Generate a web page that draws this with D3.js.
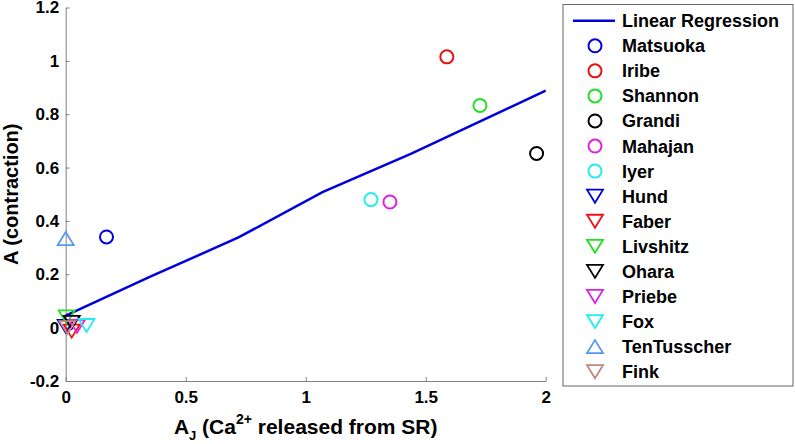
<!DOCTYPE html>
<html>
<head>
<meta charset="utf-8">
<script src="https://cdn.jsdelivr.net/npm/d3@7"></script>
<style>
  html, body { margin: 0; padding: 0; background: #fff; }
  svg { display: block; font-family: "Liberation Sans", Arial, sans-serif; font-weight: bold; }
</style>
</head>
<body>
<svg id="chart" width="795" height="444"></svg>
<script>
// ---- data ----
const models    = ["Matsuoka","Iribe","Shannon","Grandi","Mahajan","Iyer","Hund","Faber","Livshitz","Ohara","Priebe","Fox","TenTusscher","Fink"];
const ajValues  = [0.17, 1.588, 1.726, 1.962, 1.351, 1.272, 0.0, 0.025, 0.004, 0.025, 0.047, 0.087, 0.0, 0.007];
const aValues   = [0.34, 1.015, 0.833, 0.653, 0.471, 0.48, 0.005, -0.013, 0.04, 0.02, 0.005, 0.008, 0.334, 0.0];
const markers   = ["circle","circle","circle","circle","circle","circle","down","down","down","down","down","down","up","down"];
const colors    = ["#0000dd","#ee1111","#22e022","#000000","#e020e0","#22eeee","#0000dd","#ee1111","#22e022","#000000","#e020e0","#22eeee","#5599ee","#c08880"];
const regX      = [0, 0.35, 0.72, 1.07, 1.44, 2.0];
const regY      = [0.045, 0.19, 0.338, 0.508, 0.652, 0.888];
const regLabel  = "Linear Regression";
const xTicks    = [0, 0.5, 1, 1.5, 2];
const xTickLabels = ["0","0.5","1","1.5","2"];
const yTicks    = [-0.2, 0, 0.2, 0.4, 0.6, 0.8, 1, 1.2];
const yTickLabels = ["-0.2","0","0.2","0.4","0.6","0.8","1","1.2"];

// ---- layout ----
const svg = d3.select("#chart");
const x = d3.scaleLinear().domain([0, 2]).range([65.7, 545.7]);
const y = d3.scaleLinear().domain([-0.2, 1.2]).range([381, 7.5]);
const axisColor = "#808080";

// axes
const gx = svg.append("g").attr("transform", `translate(0,${y(-0.2)})`)
  .call(d3.axisBottom(x).tickValues(xTicks).tickFormat((d,i) => xTickLabels[i])
        .tickSizeInner(-4).tickSizeOuter(0).tickPadding(10));
const gy = svg.append("g").attr("transform", `translate(${x(0)},0)`)
  .call(d3.axisLeft(y).tickValues(yTicks).tickFormat((d,i) => yTickLabels[i])
        .tickSizeInner(-4).tickSizeOuter(0).tickPadding(6.5));
[gx, gy].forEach(g => {
  g.select(".domain").attr("stroke", axisColor).attr("stroke-width", 1);
  g.selectAll(".tick line").attr("stroke", axisColor);
  g.selectAll(".tick text").attr("fill", "#000").style("font-size", "17px").style("font-weight", "bold")
    .style("font-family", "'Liberation Sans', Arial, sans-serif");
});

// axis titles
const xt = svg.append("text").attr("x", (x(0)+x(2))/2).attr("y", 434).attr("text-anchor", "middle")
  .style("font-size", "21px");
xt.append("tspan").text("A");
xt.append("tspan").attr("dy", 6).style("font-size", "13px").text("J");
xt.append("tspan").attr("dy", -6).text(" (Ca");
xt.append("tspan").attr("dy", -10).style("font-size", "14px").text("2+");
xt.append("tspan").attr("dy", 10).text(" released from SR)");

svg.append("text").attr("transform", `translate(18,${(y(-0.2)+y(1.2))/2}) rotate(-90)`)
  .attr("text-anchor", "middle").style("font-size", "20px").text("A (contraction)");

// regression line
const regData = regX.map((v, i) => [v, regY[i]]);
svg.append("path").datum(regData)
  .attr("d", d3.line().x(d => x(d[0])).y(d => y(d[1])))
  .attr("fill", "none").attr("stroke", "#0000dd").attr("stroke-width", 2.5);

// marker drawing helper
function drawMarker(g, type, color) {
  if (type === "circle") {
    g.append("circle").attr("r", 6.5).attr("fill", "none").attr("stroke", color).attr("stroke-width", 2);
  } else {
    const s = type === "down" ? 1 : -1;
    g.append("path").attr("d", `M${-8},${-6.5*s}L${8},${-6.5*s}L0,${6.5*s}Z`)
      .attr("fill", "none").attr("stroke", color).attr("stroke-width", 1.8).attr("stroke-linejoin", "miter");
  }
}

models.forEach((m, i) => {
  const g = svg.append("g").attr("transform", `translate(${x(ajValues[i])},${y(aValues[i])})`);
  drawMarker(g, markers[i], colors[i]);
});

// legend
const lg = svg.append("g");
lg.append("rect").attr("x", 563).attr("y", 4.5).attr("width", 230).attr("height", 381.5)
  .attr("fill", "#fff").attr("stroke", "#666").attr("stroke-width", 1);
const rowY = i => 20.7 + i * 25.07;
lg.append("line").attr("x1", 573).attr("x2", 615).attr("y1", rowY(0)).attr("y2", rowY(0))
  .attr("stroke", "#0000dd").attr("stroke-width", 2.5);
lg.append("text").attr("x", 622).attr("y", rowY(0)).attr("dy", "0.36em").style("font-size", "18px").text(regLabel);
models.forEach((m, i) => {
  const g = lg.append("g").attr("transform", `translate(595,${rowY(i+1)})`);
  drawMarker(g, markers[i], colors[i]);
  lg.append("text").attr("x", 622).attr("y", rowY(i+1)).attr("dy", "0.36em").style("font-size", "18px").text(m);
});
</script>
</body>
</html>
